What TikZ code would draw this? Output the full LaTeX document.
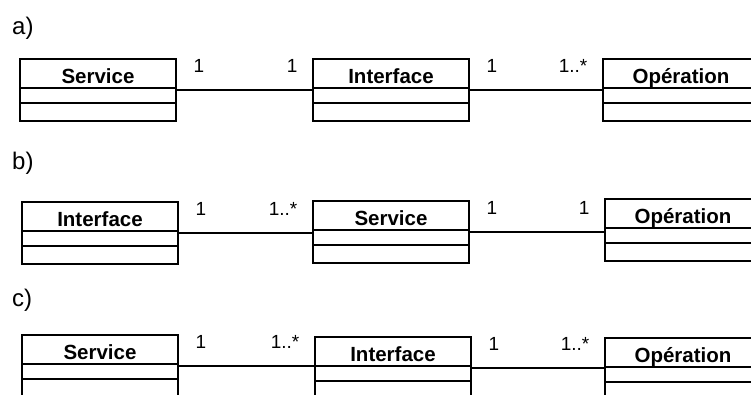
\documentclass[tikz,border=0pt]{standalone}
\usepackage{fontspec}
\setmainfont{Liberation Sans}
\usetikzlibrary{calc}

\tikzset{
  classe/.style={draw,line width=1.3pt,minimum width=156pt,minimum height=62pt,
    anchor=north west,inner sep=0pt,outer sep=0pt},
  titre/.style={anchor=base,inner sep=0pt,font=\bfseries\fontsize{20.5}{20.5}\selectfont},
  trait/.style={line width=1.3pt},
  lien/.style={line width=1.3pt},
  mult/.style={inner sep=0pt,font=\fontsize{19}{19}\selectfont},
  gauche/.style={mult,pos=0,anchor=base west,xshift=17pt,yshift=18pt},
  droite/.style={mult,pos=1,anchor=base east,xshift=-15pt,yshift=18pt},
  cas/.style={anchor=base west,inner sep=0pt,font=\fontsize{24}{24}\selectfont}
}

% name, top left corner, title
\newcommand{\umlclasse}[3]{%
  \node[classe] (#1) at (#2) {};
  \node[titre] (#1-t) at ($(#1.north)+(0,24)$) {#3};
  \draw[trait] ($(#1.north west)+(0,29)$) -- ($(#1.north east)+(0,29)$);
  \draw[trait] ($(#1.north west)+(0,44)$) -- ($(#1.north east)+(0,44)$);
  \coordinate (#1-w) at ($(#1.north west)+(0,31)$);
  \coordinate (#1-e) at ($(#1.north east)+(0,31)$);
}

\begin{document}
\begin{tikzpicture}[x=1pt,y=-1pt,line cap=round]
    \useasboundingbox (0,0) rectangle (751,394);
    \clip (0,0) rectangle (751,394);
    % a)
    \node[cas] (ta) at (12,34) {a)};
    \umlclasse{sa}{20,59}{Service}
    \umlclasse{ia}{313,59}{Interface}
    \umlclasse{oa}{603,59}{Opération}
    \draw[lien] (sa-e) -- node[gauche] {1} node[droite] {1} (sa-e -| ia-w);
    \draw[lien] (ia-e) -- node[gauche] {1} node[droite] {1..*} (ia-e -| oa-w);
    % b)
    \node[cas] (tb) at (12,169) {b)};
    \umlclasse{ib}{22,202}{Interface}
    \umlclasse{sb}{313,201}{Service}
    \umlclasse{ob}{605,199}{Opération}
    \draw[lien] (ib-e) -- node[gauche] {1} node[droite] {1..*} (ib-e -| sb-w);
    \draw[lien] (sb-e) -- node[gauche] {1} node[droite] {1} (sb-e -| ob-w);
    % c)
    \node[cas] (tc) at (12,306) {c)};
    \umlclasse{sc}{22,335}{Service}
    \umlclasse{ic}{315,337}{Interface}
    \umlclasse{oc}{605,338}{Opération}
    \draw[lien] (sc-e) -- node[gauche] {1} node[droite] {1..*} (sc-e -| ic-w);
    \draw[lien] (ic-e) -- node[gauche] {1} node[droite] {1..*} (ic-e -| oc-w);
\end{tikzpicture}
\end{document}
